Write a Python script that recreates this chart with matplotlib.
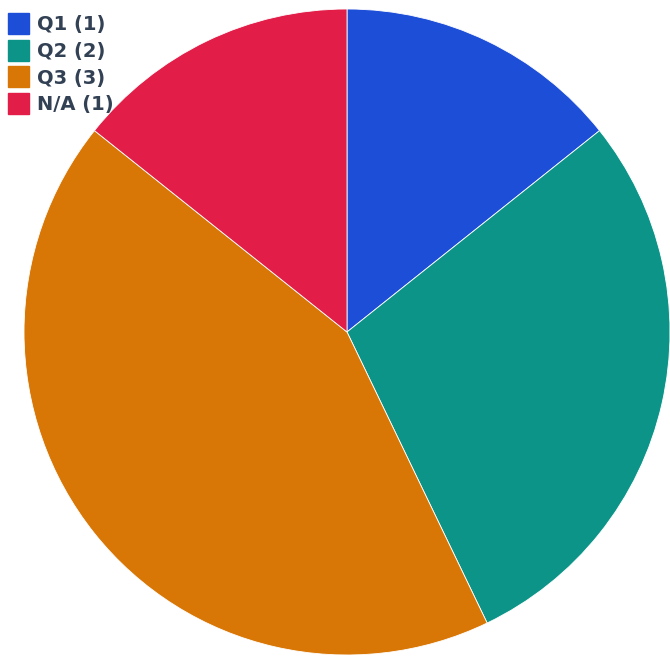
import matplotlib.pyplot as plt
import matplotlib.patches as mpatches

# Datos
etiquetas = ['Q1', 'Q2', 'Q3', 'N/A']
valores = [1, 2, 3, 1]
colores = ['#1d4ed8', '#0d9488', '#d97706', '#e11d48']

W, H = 670, 658
cx, cy, r = 347, 332, 323

fig = plt.figure(figsize=(W / 100, H / 100), dpi=100)
ax = fig.add_axes([(cx - r) / W, (H - cy - r) / H, 2 * r / W, 2 * r / H])

ax.pie(valores, colors=colores, startangle=90, counterclock=False,
       radius=1, wedgeprops=dict(edgecolor='white', linewidth=0.6))
ax.set_xlim(-1, 1)
ax.set_ylim(-1, 1)
ax.set_aspect('equal')
ax.axis('off')

# Leyenda
handles = [mpatches.Patch(color=c, label=f'{e} ({v})')
           for e, v, c in zip(etiquetas, valores, colores)]
fig.legend(handles=handles, loc='upper left', bbox_to_anchor=(0.0, 1 - 5 / H),
           frameon=False, prop=dict(weight='bold', size=14),
           labelcolor='#334155', handlelength=1.08, handleheight=1.285,
           handletextpad=0.4, labelspacing=0.3, borderaxespad=0.3,
           borderpad=0.1)

fig.savefig('out.png', dpi=100)
